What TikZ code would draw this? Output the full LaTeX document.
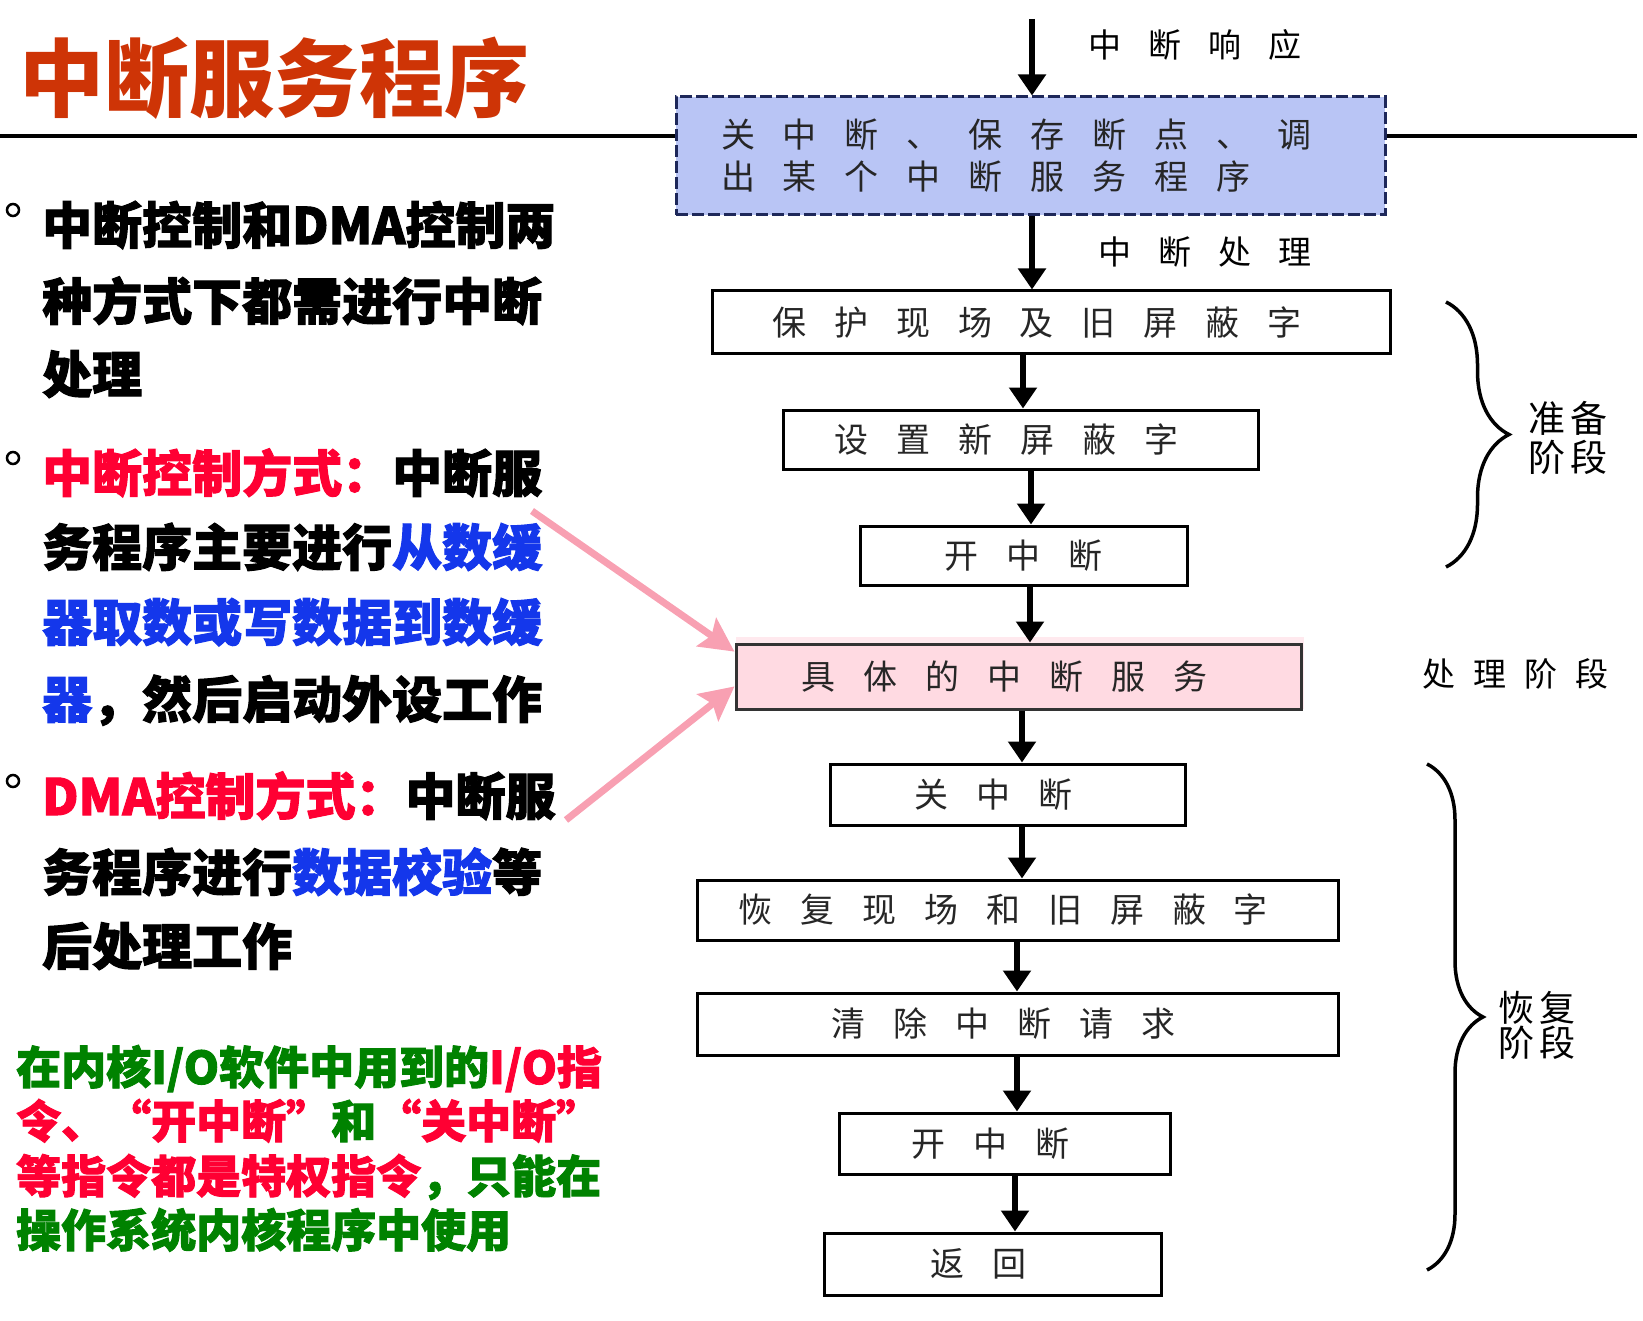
\documentclass[tikz,border=0pt]{standalone}
\usepackage{fontspec}
\setmainfont{Noto Sans CJK SC}
\newfontfamily\heavy{Noto Sans CJK SC}[BoldFeatures={FakeBold=2}]
\newfontfamily\boxfont{Noto Sans CJK SC}[LetterSpace=82]
\newfontfamily\sidefont{Noto Sans CJK SC}[LetterSpace=55]
\newfontfamily\stagefont{Noto Sans CJK SC}[LetterSpace=15]
\usetikzlibrary{arrows.meta,decorations.pathreplacing}

\definecolor{titlered}{RGB}{206,52,6}
\definecolor{keyred}{RGB}{255,0,51}
\definecolor{keyblue}{RGB}{20,55,235}
\definecolor{keygreen}{RGB}{0,130,0}
\definecolor{hintpink}{RGB}{248,160,178}
\definecolor{respfill}{RGB}{185,197,245}
\definecolor{svcfill}{RGB}{255,218,226}
\definecolor{navy}{RGB}{30,40,90}

\tikzset{
  stepbox/.style={draw=black, line width=3pt, inner sep=0pt, text=black!85,
    font=\boxfont\fontsize{34pt}{42pt}\selectfont},
  nudge/.style={execute at end node=\kern28pt},
  flow/.style={line width=6pt, -{Triangle[width=27pt,length=21pt]}},
  hint/.style={draw=hintpink, line width=7pt, -{Stealth[width=34pt,length=34pt,inset=6pt]}},
  para/.style={anchor=base west, inner sep=0pt, font=\heavy\bfseries\fontsize{50pt}{60pt}\selectfont},
  note/.style={anchor=base west, inner sep=0pt, text=keygreen, font=\heavy\bfseries\fontsize{45pt}{54pt}\selectfont},
  stage/.style={decorate, decoration={brace, amplitude=#1}, line width=3.5pt},
  tag/.style={anchor=west, inner sep=0pt, font=\boxfont\fontsize{33pt}{40pt}\selectfont},
}

\begin{document}
\begin{tikzpicture}[x=1pt,y=-1pt]
\useasboundingbox (0,0) rectangle (1643,1321);

% title and rule
\node[anchor=base west, inner sep=0pt, text=titlered, font=\bfseries\fontsize{85pt}{100pt}\selectfont] (title) at (19,111) {中断服务程序};
\draw[line width=3.5pt] (0,136) -- (1637,136);

% flow boxes
\node[stepbox, nudge, fill=respfill, draw=navy, dash pattern=on 12pt off 4pt, minimum width=709pt, minimum height=118pt, align=left] (resp) at (1030.5,156) {关中断、保存断点、调\\出某个中断服务程序};
\node[stepbox, nudge, minimum width=678pt, minimum height=63pt] (save) at (1051,322.5) {保护现场及旧屏蔽字};
\node[stepbox, nudge, minimum width=475pt, minimum height=59pt] (mask) at (1020.5,439.5) {设置新屏蔽字};
\node[stepbox, minimum width=327pt, minimum height=59pt] (ena) at (1023.5,555.5) {开中断};
\fill[svcfill!60] (736,637) rectangle (1304,709);
\node[stepbox, nudge, fill=svcfill, draw=black!80, minimum width=565pt, minimum height=65pt] (svc) at (1018.5,676.5) {具体的中断服务};
\node[stepbox, nudge, minimum width=355pt, minimum height=61pt] (dis) at (1007.5,794.5) {关中断};
\node[stepbox, nudge, minimum width=641pt, minimum height=60pt] (rest) at (1017.5,910) {恢复现场和旧屏蔽字};
\node[stepbox, nudge, minimum width=641pt, minimum height=62pt] (clr) at (1017.5,1024) {清除中断请求};
\node[stepbox, nudge, minimum width=331pt, minimum height=61pt] (ena2) at (1004.5,1143.5) {开中断};
\node[stepbox, nudge, minimum width=337pt, minimum height=62pt] (ret) at (992.5,1264) {返回};

% flow arrows
\coordinate (entry) at (1032,19);
\draw[flow] (entry) -- (entry |- resp.north);
\foreach \a/\b/\x in {resp/save/1032, save/mask/1023, mask/ena/1031, ena/svc/1030, svc/dis/1022,
                      dis/rest/1022, rest/clr/1017, clr/ena2/1017, ena2/ret/1015}
  \draw[flow] (\a.south -| \x,0) -- (\b.north -| \x,0);

% arrow labels
\node[tag] (lresp) at (1088,45) {中断响应};
\node[tag] (lproc) at (1098,252) {中断处理};
\node[tag, font=\sidefont\fontsize{33pt}{40pt}\selectfont] (lsvc) at (1422,674) {处理阶段};

% stage braces
\draw[stage=63] (1446,302) -- (1446,567);
\node[tag, align=left, font=\stagefont\fontsize{37pt}{39pt}\selectfont] (lprep) at (1528,438) {准备\\阶段};
\draw[stage=56] (1427,764) -- (1427,1270);
\node[tag, align=left, font=\stagefont\fontsize{36pt}{35pt}\selectfont] (lrec) at (1498,1025) {恢复\\阶段};

% bullets
\foreach \y in {210,458,781}
  \draw[line width=2.5pt] (13,\y) circle (6pt);

% left text
\node[para] (pa1) at (42,244) {中断控制和DMA控制两};
\node[para] (pa2) at (42,320) {种方式下都需进行中断};
\node[para] (pa3) at (42,393) {处理};

\node[para] (pb1) at (42,492) {{\color{keyred}中断控制方式：}中断服};
\node[para] (pb2) at (42,566) {务程序主要进行{\color{keyblue}从数缓}};
\node[para, text=keyblue] (pb3) at (42,641) {器取数或写数据到数缓};
\node[para] (pb4) at (42,718) {{\color{keyblue}器}，然后启动外设工作};

\node[para] (pc1) at (42,815) {{\color{keyred}DMA控制方式：}中断服};
\node[para] (pc2) at (42,891) {务程序进行{\color{keyblue}数据校验}等};
\node[para] (pc3) at (42,965) {后处理工作};

\node[note] (n1) at (16,1084) {在内核I/O软件中用到的{\color{keyred}I/O指}};
\node[note] (n2) at (16,1138) {{\color{keyred}令、“开中断”}和{\color{keyred}“关中断”}};
\node[note] (n3) at (16,1193) {{\color{keyred}等指令都是特权指令}，只能在};
\node[note] (n4) at (16,1247) {操作系统内核程序中使用};

% pointers to the service box
\coordinate (from1) at (532,511);
\coordinate (from2) at (566,820);
\draw[hint] (from1) -- (svc.175);
\draw[hint] (from2) -- (svc.182);

\end{tikzpicture}
\end{document}
